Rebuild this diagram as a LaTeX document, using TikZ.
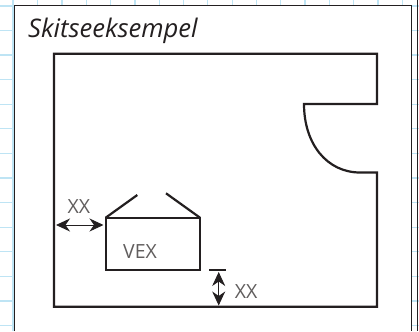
\documentclass[tikz,border=0pt]{standalone}
\usepackage{fontspec}
\setmainfont{Open Sans}
\usetikzlibrary{arrows.meta}
\definecolor{gridblue}{RGB}{190,228,244}
\definecolor{inkgrey}{RGB}{35,31,32}
\tikzset{
  wall/.style={draw=inkgrey,line width=2.2pt},
  dimarrow/.style={{Stealth[length=14pt,width=13pt,inset=4.5pt]}-{Stealth[length=14pt,width=13pt,inset=4.5pt]},draw=inkgrey,line width=0.9pt},
  dimtext/.style={text=inkgrey!72,font=\fontsize{19.5}{19.5}\selectfont,inner sep=0pt}
}
\begin{document}
\begin{tikzpicture}[x=1pt,y=-1pt]
\useasboundingbox (0,0) rectangle (419,331);
\fill[white] (0,0) rectangle (419,331);
% grid paper behind the sheet
\foreach \x in {13,37.7,62,86.3,110.6,134.9,159.2,183.5,207.8,232.1,256.4,280.7,305,329.3,353.6,377.9,402.2}
  \draw[gridblue,line width=1.2pt] (\x,0) -- (\x,331);
\foreach \y in {6,30.5,55,79.6,104.2,128.8,153.4,178,202.6,227.2,251.8,276.4,301,325.6}
  \draw[gridblue,line width=1.2pt] (0,\y) -- (419,\y);
\draw[inkgrey,line width=0.8pt,fill=white] (14.5,331) -- (14.5,5.5) -- (411.7,5.5) -- (411.7,331);
\draw[inkgrey,line width=0.8pt] (417.5,0) -- (417.5,331);
\node[anchor=base west,inner sep=0pt,font=\itshape\fontsize{25.6}{25.6}\selectfont,text=inkgrey] (title) at (28,38) {Skitseeksempel};
% room outline with the door
\draw[wall,line join=miter] (304,104) -- (377,104) -- (377,53.7) -- (54,53.7) -- (54,306.7) -- (377,306.7) -- (377,172.5) -- (360,172.5)
  .. controls (327,172.5) and (304,144) .. (304,104) -- cycle;
% house
\node[wall,minimum width=94.3pt,minimum height=52.3pt,inner sep=0pt,outer sep=0pt,anchor=north west] (house) at (105.7,217.7) {};
\coordinate (roofL) at (137.3,195);
\coordinate (roofR) at (166,193.3);
\draw[wall] (house.north west) -- (roofL);
\draw[wall] (house.north east) -- (roofR);
\node[dimtext] (vex) at (140,251.7) {VEX};
% distances
\coordinate (wallL) at (56,225);
\coordinate (houseL) at (103.5,225);
\draw[dimarrow] (wallL) -- (houseL);
\node[dimtext] (xxL) at (79,207) {XX};
\coordinate (barL) at (209,270.3);
\coordinate (barR) at (226,270.3);
\draw[wall] (barL) -- (barR);
\coordinate (gapT) at (218.7,272);
\coordinate (gapB) at (218.7,305.5);
\draw[dimarrow] (gapT) -- (gapB);
\node[dimtext] (xxB) at (246,291.7) {XX};
\end{tikzpicture}
\end{document}
